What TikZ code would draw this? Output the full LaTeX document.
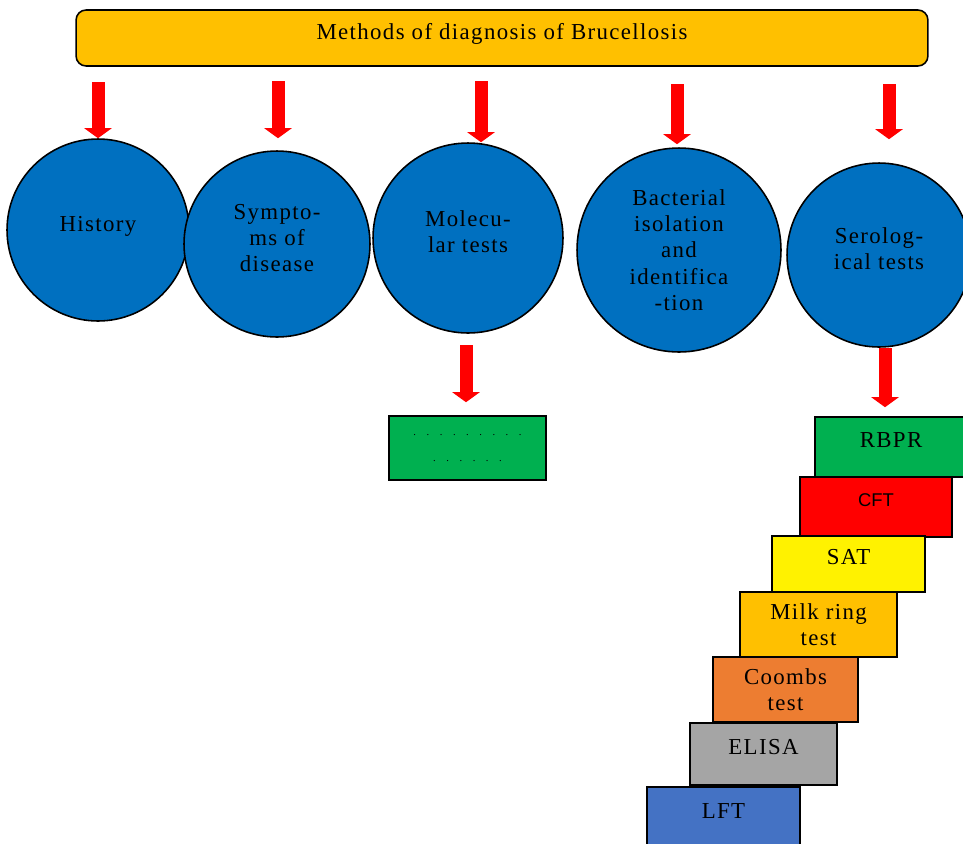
\documentclass[tikz,border=0pt]{standalone}
\usepackage{fontspec}
\setmainfont[LetterSpace=6]{Liberation Serif}
\newfontfamily\cftfont{Liberation Sans}
\usetikzlibrary{arrows.meta, positioning}
\definecolor{gold}{HTML}{FFC000}
\definecolor{discblue}{HTML}{0070C0}
\definecolor{leafgreen}{HTML}{00B050}
\definecolor{rust}{HTML}{ED7D31}
\definecolor{slate}{HTML}{A5A5A5}
\definecolor{steelblue}{HTML}{4472C4}

\begin{document}
\begin{tikzpicture}[x=0.02cm, y=-0.02cm,
        method/.style={circle, draw, line width=0.9pt, fill=discblue, align=center,
            inner sep=0pt, font=\fontsize{13}{15}\selectfont},
        stepbox/.style={rectangle, draw, line width=0.9pt, align=center,
            inner sep=0pt, font=\fontsize{13}{14.5}\selectfont},
        redarrow/.style={draw=red, line width=0.26cm, -{Triangle[width=0.54cm, length=0.2cm]}}]
    \useasboundingbox (0,0) rectangle (963,843);

    \node[draw, line width=0.9pt, fill=gold, rounded corners=0.2cm, minimum width=17.04cm,
        minimum height=1.12cm, text depth=7pt, font=\fontsize{13}{15}\selectfont]
        (title) at (502,38) {Methods of diagnosis of Brucellosis};

    \node[method, minimum size=3.64cm, text depth=7pt] (hist) at (98,230) {History};
    \node[method, minimum size=3.72cm, text depth=7pt] (sym) at (277,244) {Sympto-\\ms of\\disease};
    \node[method, minimum size=3.8cm, text depth=7pt] (mol) at (468,238) {Molecu-\\lar tests};
    \node[method, minimum size=4.08cm] (bact) at (679,250) {Bacterial\\isolation\\and\\identifica\\-tion};
    \node[method, minimum size=3.68cm, text depth=7pt] (sero) at (879,255) {Serolog-\\ical tests};

    \node[stepbox, fill=leafgreen, minimum width=3.14cm, minimum height=1.28cm,
        font=\fontsize{6}{15}\selectfont] (pcr) at (467.5,448)
        {.\quad.\quad.\quad.\quad.\quad.\quad.\quad.\quad.\\.\quad.\quad.\quad.\quad.\quad.};

    \node[stepbox, fill=leafgreen, minimum width=3.04cm, minimum height=1.2cm, text depth=8pt] (rbpr) at (891,447) {RBPR};
    \node[stepbox, fill=red, minimum width=3.04cm, minimum height=1.2cm, text depth=8pt,
        font=\cftfont\fontsize{10.5}{12}\selectfont] (cft) at (876,507) {CFT};
    \node[stepbox, fill=yellow, minimum width=3.06cm, minimum height=1.12cm, text depth=8pt] (sat) at (848.5,564) {SAT};
    \node[stepbox, fill=gold, minimum width=3.14cm, minimum height=1.3cm] (milk) at (818.5,624.5) {Milk ring\\test};
    \node[stepbox, fill=rust, minimum width=2.9cm, minimum height=1.3cm] (coombs) at (785.5,689.5) {Coombs\\test};
    \node[stepbox, fill=slate, minimum width=2.94cm, minimum height=1.24cm, text depth=8pt] (elisa) at (763.5,754) {ELISA};
    \node[stepbox, fill=steelblue, minimum width=3.06cm, minimum height=1.26cm, text depth=8pt] (lft) at (723.5,818.5) {LFT};

    \coordinate (a1) at (98,82);
    \coordinate (a2) at (278,81);
    \coordinate (a3) at (481,81);
    \coordinate (a4) at (677,84);
    \coordinate (a5) at (889,84);
    \coordinate (a6) at (466,345);
    \coordinate (a7) at (885,348);
    \draw[redarrow] (a1) -- (a1 |- hist.north);
    \draw[redarrow, shorten >=0.24cm] (a2) -- (a2 |- sym.north);
    \draw[redarrow] (a3) -- (a3 |- mol.north);
    \draw[redarrow, shorten >=0.06cm] (a4) -- (a4 |- bact.north);
    \draw[redarrow, shorten >=0.46cm] (a5) -- (a5 |- sero.north);
    \draw[redarrow, shorten >=0.26cm] (a6) -- (a6 |- pcr.north);
    \draw[redarrow, shorten >=0.18cm] (a7) -- (a7 |- rbpr.north);

\end{tikzpicture}
\end{document}
